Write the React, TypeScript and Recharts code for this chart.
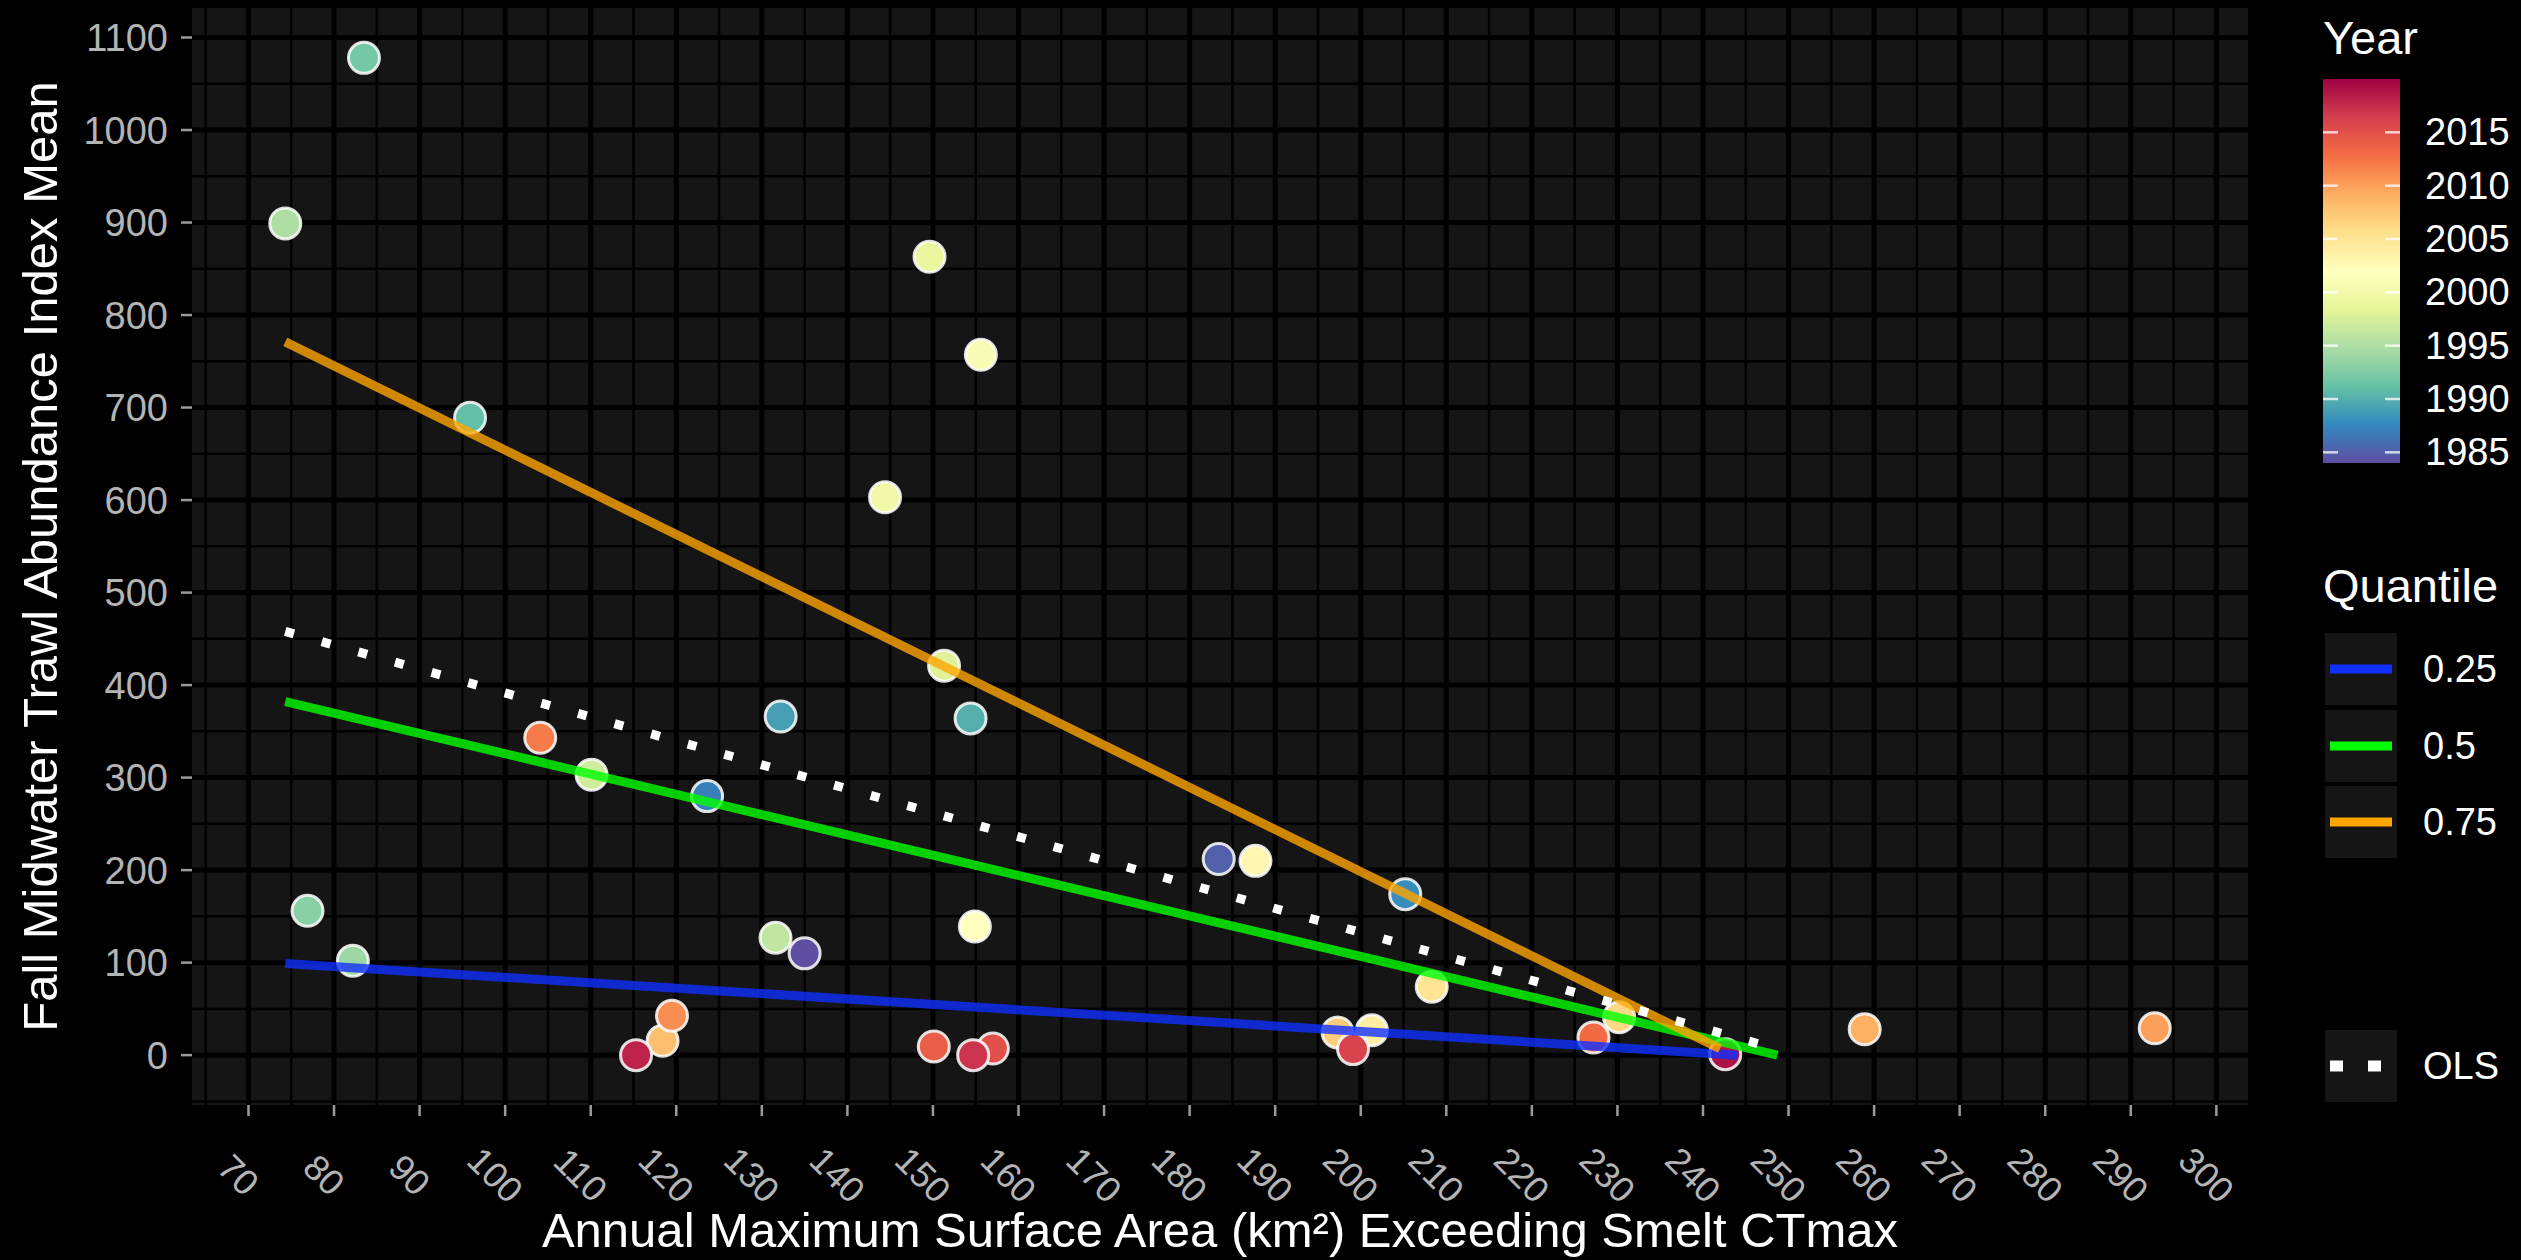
import React from 'react';
import { ComposedChart, Line, Scatter, XAxis, YAxis, CartesianGrid } from 'recharts';

// ---- survey points (one per year) ----
const surveyYear = [
  1984, 1985, 1987, 1988, 1989, 1990, 1991, 1992, 1993, 1994, 1995, 1996,
  1997, 1998, 1999, 2000, 2001, 2002, 2003, 2004, 2005, 2006, 2007, 2008,
  2009, 2010, 2011, 2012, 2013, 2014, 2015, 2016, 2017, 2018, 2019,
];
const areaKm2 = [
  135.0, 183.4, 123.6, 205.2, 132.2, 154.4, 95.9, 83.5, 76.9, 82.2, 74.3, 131.6,
  110.1, 151.3, 149.6, 144.4, 155.6, 154.9, 187.7, 201.3, 208.3, 230.2, 197.3, 118.4,
  258.9, 292.8, 119.5, 104.1, 227.2, 150.1, 157.0, 199.1, 154.7, 115.3, 242.6,
];
const abundanceIndex = [
  110, 212, 280, 174, 366, 364, 689, 1078, 156, 102, 899, 127,
  303, 421, 863, 603, 757, 139, 210, 27, 74, 41, 24.5, 15.5,
  28, 29, 42.5, 343, 19, 9.4, 7.2, 6.5, 0, 0, 1,
];

// ---- fitted lines (start / end of each fit) ----
const quantileLabels = ['0.25', '0.5', '0.75'];
const quantileColors = ['#1030FF', '#00FF00', '#FFA500'];
const q25X = [74.3, 244.0];
const q25Y = [99, 0];
const q50X = [74.3, 248.7];
const q50Y = [382, 0];
const q75X = [74.3, 242.0];
const q75Y = [771, 7];
const olsX = [74.3, 248.5];
const olsY = [458, 7];

// ---- axes ----
const xTicks = [70, 80, 90, 100, 110, 120, 130, 140, 150, 160, 170, 180, 190, 200, 210, 220, 230, 240, 250, 260, 270, 280, 290, 300];
const yTicks = [0, 100, 200, 300, 400, 500, 600, 700, 800, 900, 1000, 1100];
const xDomain = [63.4, 303.7];
const yDomain = [-53.9, 1131.9];

// ---- colour bar ----
const yearLimits = [1984, 2020];
const yearTicks = [1985, 1990, 1995, 2000, 2005, 2010, 2015];
const spectral = ['#5E4FA2', '#3288BD', '#66C2A5', '#ABDDA4', '#E6F598', '#FFFFBF', '#FEE08B', '#FDAE61', '#F46D43', '#D53E4F', '#9E0142'];

const FONT = "'Liberation Sans', Arial, Helvetica, sans-serif";
const PANEL = '#151515';
const TICK_TEXT = '#b4b4b4';
const TICK_LINE = '#9a9a9a';
const TITLE_SIZE = 49;

const seq = (from: number, to: number, step: number) => {
  const out: number[] = [];
  for (let v = from; v <= to + 1e-9; v += step) out.push(v);
  return out;
};
const xMinor = seq(65, 300, 5);
const yMinor = seq(-50, 1100, 50);

const hexToRgb = (h: string) => [1, 3, 5].map((i) => parseInt(h.slice(i, i + 2), 16));
const yearColor = (year: number) => {
  const t = Math.min(1, Math.max(0, (year - yearLimits[0]) / (yearLimits[1] - yearLimits[0])));
  const pos = t * (spectral.length - 1);
  const i = Math.min(spectral.length - 2, Math.floor(pos));
  const f = pos - i;
  const a = hexToRgb(spectral[i]);
  const b = hexToRgb(spectral[i + 1]);
  const c = a.map((v, k) => Math.round(v + (b[k] - v) * f));
  return `rgb(${c[0]},${c[1]},${c[2]})`;
};

const points = surveyYear.map((year, i) => ({ x: areaKm2[i], y: abundanceIndex[i], year }));
const toLine = (xs: number[], ys: number[]) => xs.map((x, i) => ({ x, y: ys[i] }));
const q25 = toLine(q25X, q25Y);
const q50 = toLine(q50X, q50Y);
const q75 = toLine(q75X, q75Y);
const ols = toLine(olsX, olsY);

const renderPoint = (props: any) => {
  const { cx, cy, payload } = props;
  if (cx == null || cy == null) return <g />;
  return (
    <circle cx={cx} cy={cy} r={15.5} fill={yearColor(payload.year)} stroke="rgba(255,255,255,0.85)" strokeWidth={3} />
  );
};

const XTick = (props: any) => {
  const { x, y, payload } = props;
  const cx = x - 10;
  const cy = y + 57;
  return (
    <text x={cx} y={cy} transform={`rotate(45 ${cx} ${cy})`} textAnchor="middle" dominantBaseline="central"
      fill={TICK_TEXT} fontSize={36} fontFamily={FONT}>
      {payload.value}
    </text>
  );
};

const yTitle = (props: any) => {
  const vb = props && props.viewBox ? props.viewBox : {};
  const cx = 40;
  const cy = (vb.y ?? 8) + (vb.height ?? 1097) / 2;
  return (
    <text x={cx} y={cy} transform={`rotate(-90 ${cx} ${cy})`} textAnchor="middle" dominantBaseline="central"
      fill="#ffffff" fontSize={TITLE_SIZE} fontFamily={FONT}>
      Fall Midwater Trawl Abundance Index Mean
    </text>
  );
};

const xTitle = (props: any) => {
  const vb = props && props.viewBox ? props.viewBox : {};
  const cx = (vb.x ?? 192) + (vb.width ?? 2056) / 2;
  return (
    <text x={cx} y={1247} textAnchor="middle" fill="#ffffff" fontSize={TITLE_SIZE} fontFamily={FONT}>
      Annual Maximum Surface Area (km²) Exceeding Smelt CTmax
    </text>
  );
};

function Legends() {
  const barX = 2323;
  const barY = 79;
  const barW = 77;
  const barH = 384;
  const yearToY = (yr: number) => barY + ((yearLimits[1] - yr) / (yearLimits[1] - yearLimits[0])) * barH;
  const keyX = 2325;
  const keyW = 72;
  const keyCenters = [669, 746, 822];
  const olsCenter = 1066;
  return (
    <svg width={2521} height={1260} style={{ position: 'absolute', left: 0, top: 0 }} fontFamily={FONT}>
      <defs>
        <linearGradient id="yearGrad" x1="0" y1="1" x2="0" y2="0">
          {spectral.map((c, i) => (
            <stop key={c} offset={i / (spectral.length - 1)} stopColor={c} />
          ))}
        </linearGradient>
      </defs>
      <text x={barX} y={54} fill="#ffffff" fontSize={47}>Year</text>
      <rect x={barX} y={barY} width={barW} height={barH} fill="url(#yearGrad)" />
      {yearTicks.map((yr) => (
        <g key={yr}>
          <line x1={barX} x2={barX + 15} y1={yearToY(yr)} y2={yearToY(yr)} stroke="rgba(255,255,255,0.75)" strokeWidth={2.5} />
          <line x1={barX + barW - 15} x2={barX + barW} y1={yearToY(yr)} y2={yearToY(yr)} stroke="rgba(255,255,255,0.75)" strokeWidth={2.5} />
          <text x={2425} y={yearToY(yr)} dominantBaseline="central" fill="#ffffff" fontSize={38}>{yr}</text>
        </g>
      ))}

      <text x={barX} y={602} fill="#ffffff" fontSize={47}>Quantile</text>
      {quantileLabels.map((lab, i) => (
        <g key={lab}>
          <rect x={keyX} y={keyCenters[i] - keyW / 2} width={keyW} height={keyW} fill={PANEL} />
          <line x1={keyX + 5} x2={keyX + keyW - 5} y1={keyCenters[i]} y2={keyCenters[i]} stroke={quantileColors[i]} strokeWidth={9} />
          <text x={2423} y={keyCenters[i]} dominantBaseline="central" fill="#ffffff" fontSize={38}>{lab}</text>
        </g>
      ))}

      <rect x={keyX} y={olsCenter - keyW / 2} width={keyW} height={keyW} fill={PANEL} />
      <line x1={keyX + 5} x2={keyX + keyW - 5} y1={olsCenter} y2={olsCenter} stroke="#ffffff" strokeWidth={11} strokeDasharray="13 25" />
      <text x={2423} y={olsCenter} dominantBaseline="central" fill="#ffffff" fontSize={38}>OLS</text>
    </svg>
  );
}

export default function App() {
  return (
    <div style={{ position: 'absolute', left: 0, top: 0, width: 2521, height: 1260, background: '#000000', overflow: 'hidden' }}>
      <ComposedChart width={2521} height={1260} margin={{ top: 8, right: 273, bottom: 0, left: 0 }}>
        <CartesianGrid fill={PANEL} stroke="#000000" strokeWidth={2.5} horizontalValues={yMinor} verticalValues={xMinor} />
        <CartesianGrid stroke="#000000" strokeWidth={5} horizontalValues={yTicks} verticalValues={xTicks} />
        <XAxis
          type="number"
          dataKey="x"
          domain={xDomain}
          allowDataOverflow
          ticks={xTicks}
          interval={0}
          height={155}
          axisLine={false}
          tickLine={{ stroke: TICK_LINE, strokeWidth: 2.5 }}
          tickSize={11}
          tick={<XTick />}
          label={xTitle}
        />
        <YAxis
          type="number"
          dataKey="y"
          domain={yDomain}
          allowDataOverflow
          ticks={yTicks}
          interval={0}
          width={192}
          axisLine={false}
          tickLine={{ stroke: TICK_LINE, strokeWidth: 2.5 }}
          tickSize={11}
          tickMargin={13}
          tick={{ fill: TICK_TEXT, fontSize: 38, fontFamily: FONT }}
          label={yTitle}
        />
        <Scatter data={points} shape={renderPoint} isAnimationActive={false} zIndex={600} />
        <Line data={q25} dataKey="y" type="linear" stroke={quantileColors[0]} strokeOpacity={0.8} strokeWidth={9} dot={false} activeDot={false} isAnimationActive={false} zIndex={700} />
        <Line data={q50} dataKey="y" type="linear" stroke={quantileColors[1]} strokeOpacity={0.8} strokeWidth={9} dot={false} activeDot={false} isAnimationActive={false} zIndex={700} />
        <Line data={q75} dataKey="y" type="linear" stroke={quantileColors[2]} strokeOpacity={0.8} strokeWidth={9} dot={false} activeDot={false} isAnimationActive={false} zIndex={700} />
        <Line data={ols} dataKey="y" type="linear" stroke="#ffffff" strokeWidth={9} strokeDasharray="9 29" dot={false} activeDot={false} isAnimationActive={false} zIndex={700} />
      </ComposedChart>
      <Legends />
    </div>
  );
}
